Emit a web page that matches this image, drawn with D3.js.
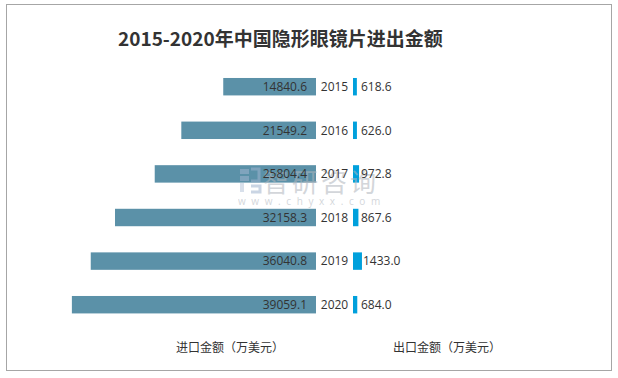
<!DOCTYPE html>
<html>
<head>
<meta charset="utf-8">
<script src="https://cdn.jsdelivr.net/npm/d3@7"></script>
<style>
  html, body { margin: 0; padding: 0; background: #fff; }
  svg { display: block; }
</style>
</head>
<body>
<svg id="chart" width="618" height="378"></svg>
<script>
const years = ["2015", "2016", "2017", "2018", "2019", "2020"];
const importValues = [14840.6, 21549.2, 25804.4, 32158.3, 36040.8, 39059.1];
const exportValues = [618.6, 626.0, 972.8, 867.6, 1433.0, 684.0];
const title = "2015-2020年中国隐形眼镜片进出金额";
const importLabel = "进口金额（万美元）";
const exportLabel = "出口金额（万美元）";

const svg = d3.select("#chart");
const font = "'Open Sans', 'Noto Sans CJK SC', sans-serif";
const cjkFont = "'Noto Sans CJK SC', sans-serif";

// border
svg.append("rect")
  .attr("x", 6.5).attr("y", 4.5)
  .attr("width", 605).attr("height", 366)
  .attr("fill", "#fff").attr("stroke", "#a6a6a6").attr("stroke-width", 1);

// title
svg.append("text")
  .attr("x", 118).attr("y", 46)
  .attr("font-family", cjkFont)
  .attr("font-weight", "bold")
  .attr("font-size", 19)
  .attr("fill", "#333")
  .text(title);

const y = d3.scaleBand().domain(years).range([64.9, 326.5]).paddingInner(0.6).paddingOuter(0.3);
const xImp = d3.scaleLinear().domain([0, 40000]).range([316, 66]);
const xExp = d3.scaleLinear().domain([0, 40000]).range([353, 603]);

// import bars
svg.append("g").selectAll("rect")
  .data(years)
  .join("rect")
  .attr("x", (d, i) => xImp(importValues[i]))
  .attr("y", d => y(d))
  .attr("width", (d, i) => xImp(0) - xImp(importValues[i]))
  .attr("height", y.bandwidth())
  .attr("fill", "#5b91a8");

// export bars
svg.append("g").selectAll("rect")
  .data(years)
  .join("rect")
  .attr("x", xExp(0))
  .attr("y", d => y(d))
  .attr("width", (d, i) => xExp(exportValues[i]) - xExp(0))
  .attr("height", y.bandwidth())
  .attr("fill", "#00a0dc");

// watermark
const wm = svg.append("g").attr("opacity", 0.55);
wm.append("rect").attr("x", 240).attr("y", 169).attr("width", 9).attr("height", 5).attr("fill", "#9fb4cf");
wm.append("rect").attr("x", 240).attr("y", 176).attr("width", 9).attr("height", 5).attr("fill", "#9fb4cf");
wm.append("rect").attr("x", 240).attr("y", 183).attr("width", 4).attr("height", 9).attr("fill", "#b9c8dc");
wm.append("path").attr("d", "M251,169 h8 v12 h-8 M251,186 h9 v6 h-9").attr("fill", "none").attr("stroke", "#9fb4cf").attr("stroke-width", 3);
wm.append("text")
  .attr("x", 263).attr("y", 192)
  .attr("font-family", cjkFont).attr("font-size", 26)
  .attr("letter-spacing", 3)
  .attr("fill", "#b0b6bd")
  .text("智研咨询");
wm.append("text")
  .attr("x", 238).attr("y", 205)
  .attr("font-family", font).attr("font-size", 10)
  .attr("letter-spacing", 5.6)
  .attr("fill", "#b0b6bd")
  .text("www.chyxx.com");

// import value labels
svg.append("g").selectAll("text")
  .data(years)
  .join("text")
  .attr("x", 307)
  .attr("y", d => y(d) + y.bandwidth() / 2)
  .attr("dy", "0.36em")
  .attr("text-anchor", "end")
  .attr("font-family", font).attr("font-size", 12)
  .attr("fill", "#333")
  .text((d, i) => importValues[i].toFixed(1));

// year labels
svg.append("g").selectAll("text")
  .data(years)
  .join("text")
  .attr("x", 334.5)
  .attr("y", d => y(d) + y.bandwidth() / 2)
  .attr("dy", "0.36em")
  .attr("text-anchor", "middle")
  .attr("font-family", font).attr("font-size", 12)
  .attr("fill", "#333")
  .text(d => d);

// export value labels
svg.append("g").selectAll("text")
  .data(years)
  .join("text")
  .attr("x", (d, i) => Math.max(xExp(exportValues[i]) + 1, 361))
  .attr("y", d => y(d) + y.bandwidth() / 2)
  .attr("dy", "0.36em")
  .attr("font-family", font).attr("font-size", 12)
  .attr("fill", "#333")
  .text((d, i) => exportValues[i].toFixed(1));

// axis titles
svg.append("text")
  .attr("x", 176).attr("y", 352)
  .attr("font-family", cjkFont).attr("font-size", 12)
  .attr("fill", "#333")
  .text(importLabel);
svg.append("text")
  .attr("x", 393).attr("y", 352)
  .attr("font-family", cjkFont).attr("font-size", 12)
  .attr("fill", "#333")
  .text(exportLabel);
</script>
</body>
</html>
